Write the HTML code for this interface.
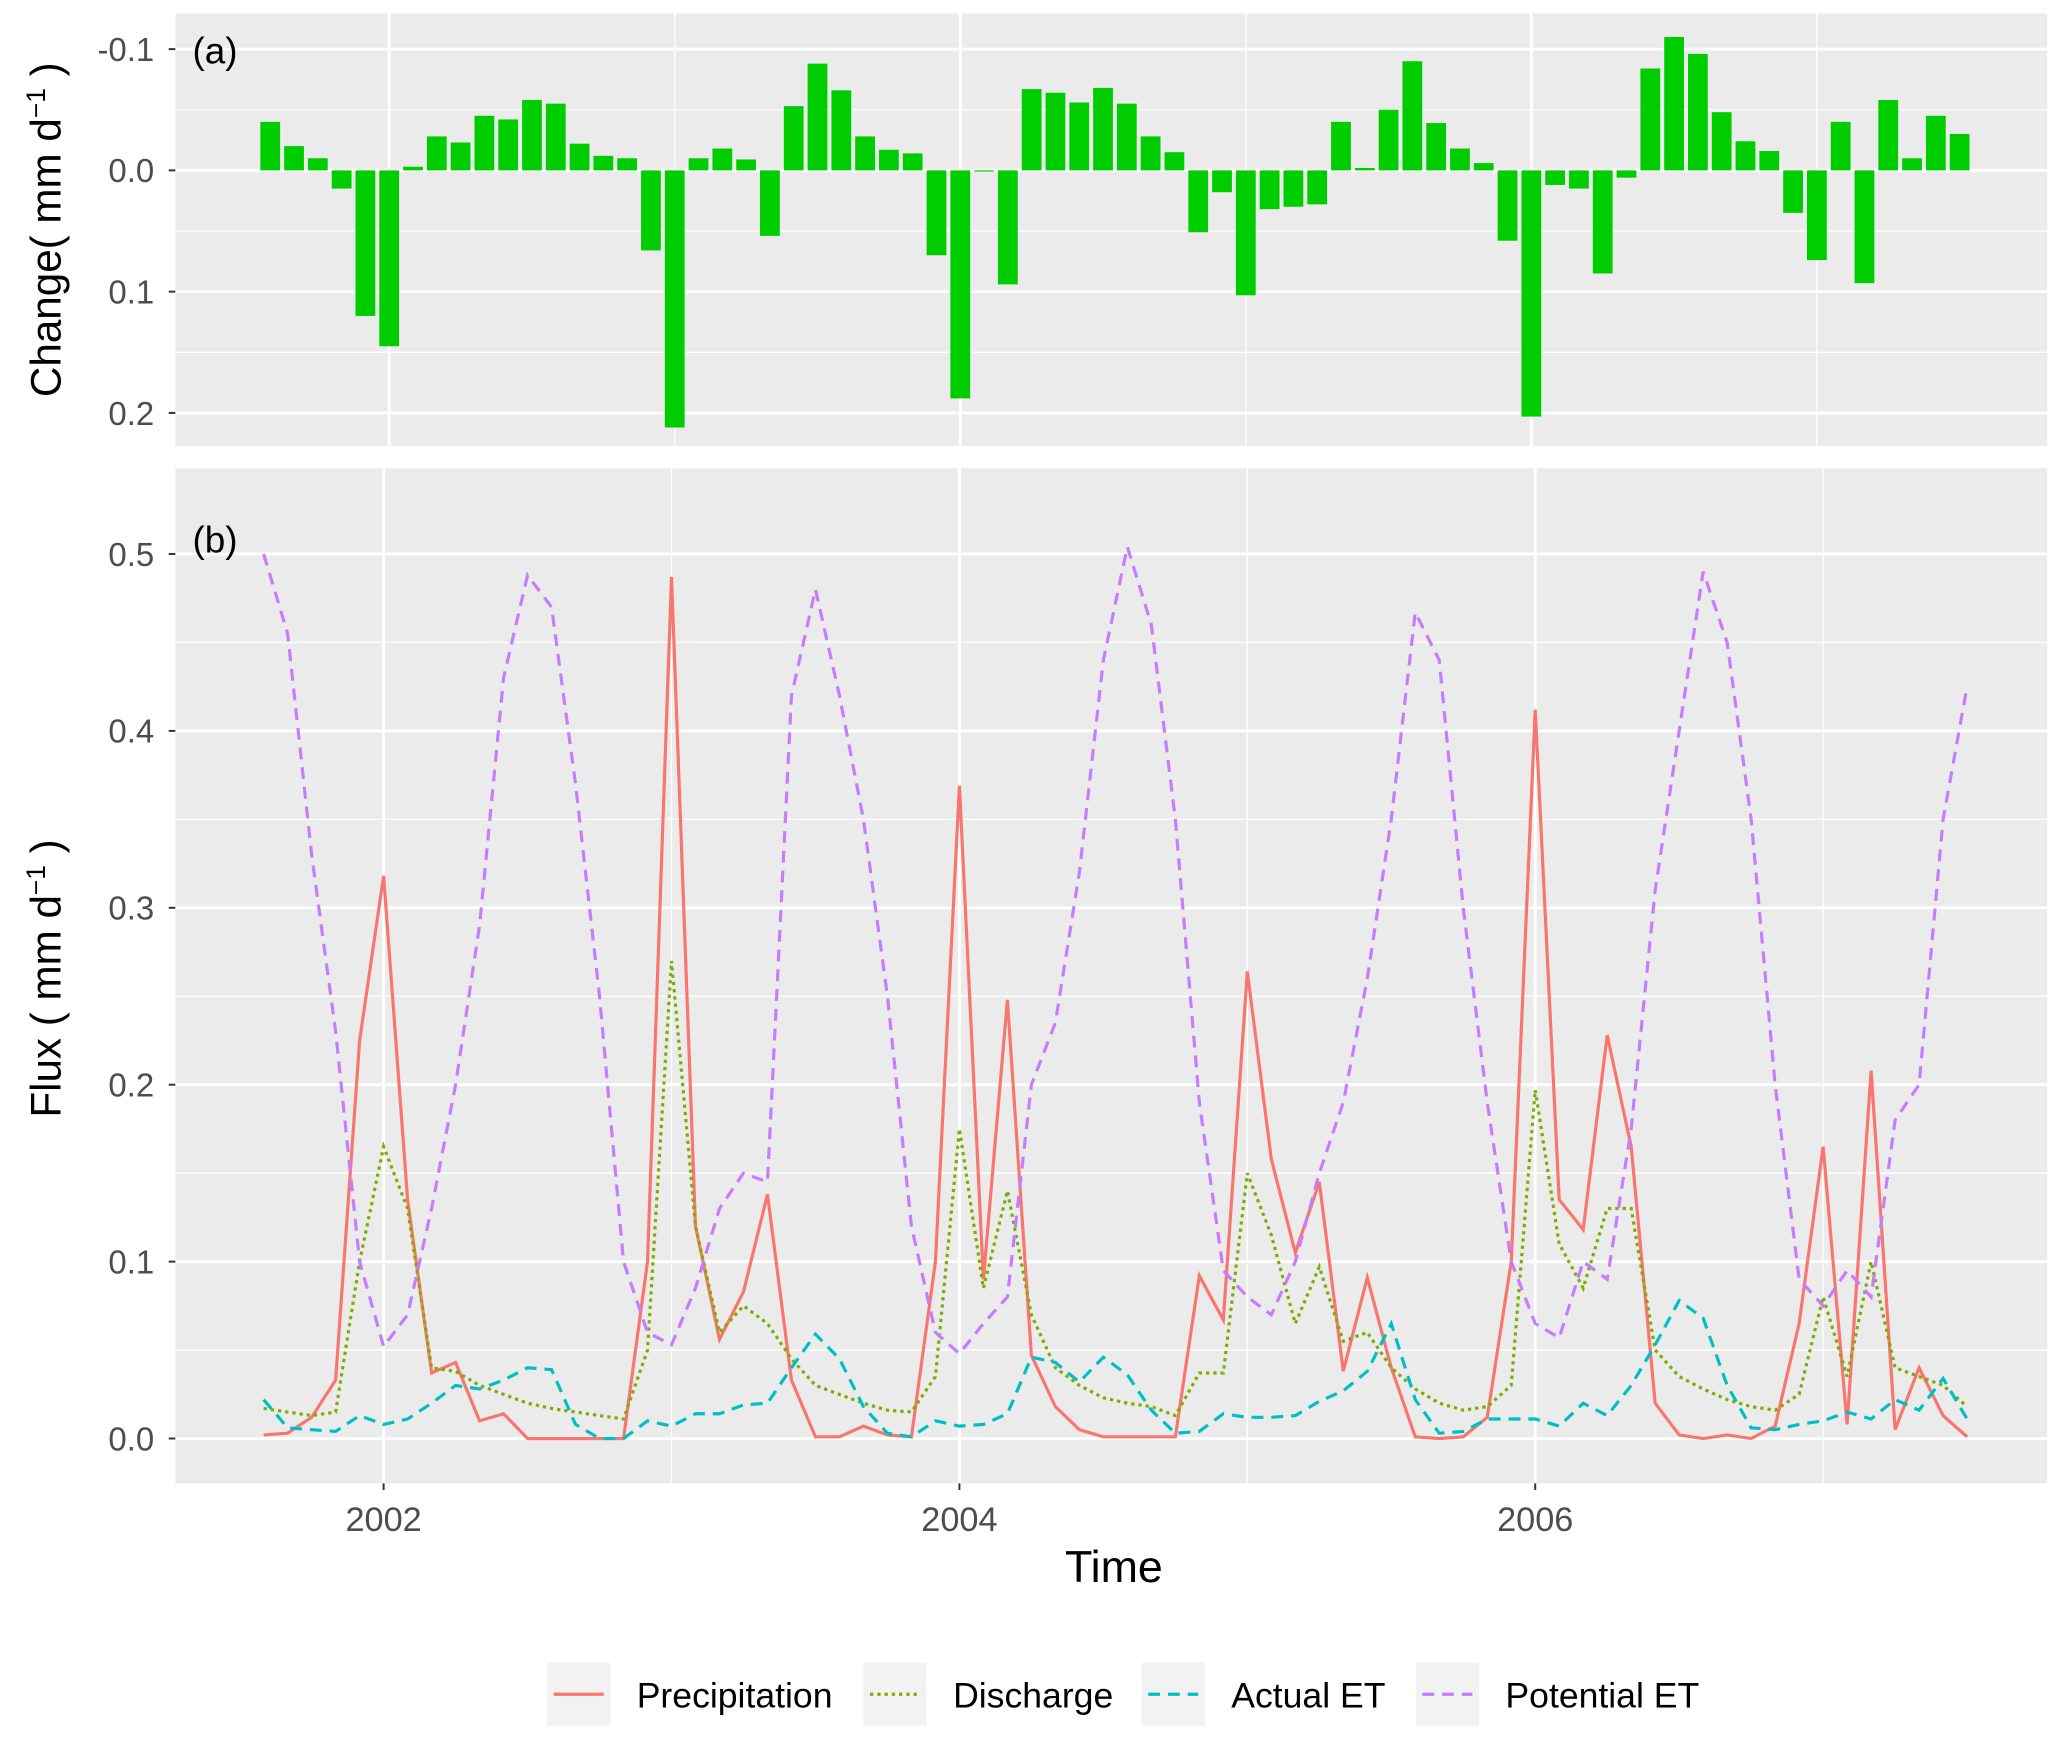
<!DOCTYPE html>
<html><head><meta charset="utf-8"><style>body{margin:0;background:#fff}svg{display:block}text{font-family:"Liberation Sans",Arial,sans-serif}</style></head>
<body>
<svg id="chart" width="2067" height="1746" viewBox="0 0 1568 1324" xmlns="http://www.w3.org/2000/svg">
<g id="pa"></g>
<g id="pb"></g>
<text x="46" y="174" font-size="32" text-anchor="middle" transform="rotate(-90 46 174)">Change( mm d<tspan font-size="20" dy="-12">−1</tspan><tspan dy="12"> )</tspan></text>
<text x="46" y="742" font-size="32" text-anchor="middle" transform="rotate(-90 46 742)">Flux ( mm d<tspan font-size="20" dy="-12">−1</tspan><tspan dy="12"> )</tspan></text>
<text x="845" y="1200" font-size="34" text-anchor="middle">Time</text>
<g id="legend"></g>
</svg>
<script>
const changeVals=[-0.04,-0.02,-0.01,0.015,0.12,0.145,-0.003,-0.028,-0.023,-0.045,-0.042,-0.058,-0.055,-0.022,-0.012,-0.01,0.066,0.212,-0.01,-0.018,-0.009,0.054,-0.053,-0.088,-0.066,-0.028,-0.017,-0.014,0.07,0.188,0.001,0.094,-0.067,-0.064,-0.056,-0.068,-0.055,-0.028,-0.015,0.051,0.018,0.103,0.032,0.03,0.028,-0.04,-0.002,-0.05,-0.09,-0.039,-0.018,-0.006,0.058,0.203,0.012,0.015,0.085,0.006,-0.084,-0.11,-0.096,-0.048,-0.024,-0.016,0.035,0.074,-0.04,0.093,-0.058,-0.01,-0.045,-0.03];
const precip=[0.002,0.003,0.012,0.033,0.225,0.318,0.135,0.037,0.043,0.01,0.014,0,0,0,0,0,0.1,0.487,0.12,0.056,0.083,0.138,0.033,0.001,0.001,0.007,0.002,0.001,0.1,0.369,0.09,0.248,0.047,0.018,0.005,0.001,0.001,0.001,0.001,0.092,0.067,0.264,0.158,0.105,0.145,0.038,0.091,0.04,0.001,0,0.001,0.012,0.1,0.412,0.135,0.118,0.228,0.165,0.02,0.002,0,0.002,0,0.007,0.065,0.165,0.008,0.208,0.005,0.04,0.013,0.001];
const discharge=[0.017,0.015,0.013,0.015,0.1,0.165,0.13,0.04,0.038,0.03,0.025,0.02,0.017,0.015,0.013,0.011,0.05,0.27,0.12,0.06,0.075,0.065,0.045,0.03,0.025,0.02,0.016,0.015,0.035,0.175,0.085,0.14,0.07,0.04,0.03,0.023,0.02,0.018,0.013,0.037,0.037,0.15,0.115,0.065,0.097,0.055,0.06,0.04,0.028,0.02,0.016,0.018,0.03,0.197,0.11,0.085,0.13,0.13,0.05,0.035,0.028,0.022,0.018,0.016,0.025,0.08,0.035,0.1,0.04,0.035,0.03,0.018];
const actualET=[0.022,0.006,0.005,0.004,0.013,0.008,0.011,0.02,0.03,0.028,0.033,0.04,0.039,0.008,0,0,0.01,0.007,0.014,0.014,0.019,0.02,0.04,0.059,0.045,0.018,0.003,0.001,0.01,0.007,0.008,0.014,0.046,0.043,0.032,0.046,0.036,0.016,0.003,0.004,0.014,0.012,0.012,0.013,0.021,0.027,0.038,0.065,0.022,0.003,0.004,0.011,0.011,0.011,0.007,0.02,0.013,0.03,0.053,0.078,0.068,0.03,0.006,0.005,0.008,0.01,0.015,0.011,0.022,0.016,0.034,0.011];
const potentialET=[0.5,0.455,0.33,0.23,0.1,0.052,0.07,0.13,0.2,0.29,0.43,0.488,0.47,0.37,0.25,0.1,0.06,0.053,0.085,0.13,0.15,0.145,0.42,0.48,0.42,0.35,0.25,0.12,0.06,0.048,0.065,0.08,0.2,0.235,0.32,0.44,0.504,0.46,0.35,0.19,0.095,0.08,0.07,0.1,0.15,0.19,0.26,0.35,0.467,0.44,0.3,0.19,0.1,0.065,0.057,0.1,0.09,0.175,0.31,0.4,0.49,0.45,0.35,0.2,0.09,0.075,0.095,0.08,0.18,0.2,0.35,0.425];
const aTicks=[-0.1,0.0,0.1,0.2];
const aTickLabels=["-0.1","0.0","0.1","0.2"];
const bTicks=[0,0.1,0.2,0.3,0.4,0.5];
const bTickLabels=["0.0","0.1","0.2","0.3","0.4","0.5"];
const years=[2002,2003,2004,2005,2006,2007];
const yearLabels=["2002","2004","2006"];
const NS="http://www.w3.org/2000/svg";
function mk(p,t,a){const e=document.createElementNS(NS,t);for(const k in a)e.setAttribute(k,a[k]);p.appendChild(e);return e;}
const xa=i=>205+i*18.05, ya=v=>129+v*920;
const xb=i=>200+i*18.2, yb=v=>1091-v*1342;
const yearIdx=y=>(y-2002)*12+5;
const pa=document.getElementById('pa'), pb=document.getElementById('pb');
let r=mk(pa,'rect',{x:133,y:10,width:1420,height:328,fill:'#ebebeb'});

[-0.15,-0.05,0.05,0.15,0.25].forEach(v=>{const y=ya(v);if(y>10&&y<338)mk(pa,'line',{x1:133,x2:1553,y1:y,y2:y,stroke:'#fff','stroke-width':1});});
aTicks.forEach((v,k)=>{const y=ya(v);mk(pa,'line',{x1:133,x2:1553,y1:y,y2:y,stroke:'#fff','stroke-width':2.2});
 mk(pa,'line',{x1:128,x2:133,y1:y,y2:y,stroke:'#333','stroke-width':1.5});
 const t=mk(pa,'text',{x:117,y:y+9,'font-size':25,'text-anchor':'end',fill:'#4d4d4d'});t.textContent=aTickLabels[k];
 });
years.forEach(y=>{const x=xa(yearIdx(y));mk(pa,'line',{x1:x,x2:x,y1:10,y2:338,stroke:'#fff','stroke-width':(y%2==0)?2.2:1});});
changeVals.forEach((v,i)=>{const y0=ya(0),y1=ya(v);const b=mk(pa,'rect',{x:xa(i)-7.5,y:Math.min(y0,y1),width:15,height:Math.abs(y1-y0),fill:'#00cd00'});
 });
let ta=mk(pa,'text',{x:146,y:48,'font-size':28});ta.textContent='(a)';

r=mk(pb,'rect',{x:133,y:355,width:1420,height:770,fill:'#ebebeb'});

[0.05,0.15,0.25,0.35,0.45].forEach(v=>{const y=yb(v);mk(pb,'line',{x1:133,x2:1553,y1:y,y2:y,stroke:'#fff','stroke-width':1});});
bTicks.forEach((v,k)=>{const y=yb(v);mk(pb,'line',{x1:133,x2:1553,y1:y,y2:y,stroke:'#fff','stroke-width':2.2});
 mk(pb,'line',{x1:128,x2:133,y1:y,y2:y,stroke:'#333','stroke-width':1.5});
 const t=mk(pb,'text',{x:117,y:y+9,'font-size':25,'text-anchor':'end',fill:'#4d4d4d'});t.textContent=bTickLabels[k];
 });
years.forEach(y=>{const x=xb(yearIdx(y));mk(pb,'line',{x1:x,x2:x,y1:355,y2:1125,stroke:'#fff','stroke-width':(y%2==0)?2.2:1});});
yearLabels.forEach(l=>{const x=xb(yearIdx(+l));mk(pb,'line',{x1:x,x2:x,y1:1125,y2:1130,stroke:'#333','stroke-width':1.5});
 const t=mk(pb,'text',{x:x,y:1161,'font-size':26,'text-anchor':'middle',fill:'#4d4d4d'});t.textContent=l;
 });
const series=[[precip,'#f8766d',null,'precipitation-line'],[discharge,'#7cae00','2.5,3','discharge-line'],[actualET,'#00bfc4','9,6','actual-et-line'],[potentialET,'#c77cff','9,6','potential-et-line']];
series.forEach(s=>{const d=s[0].map((v,i)=>(i?'L':'M')+xb(i).toFixed(1)+','+yb(v).toFixed(1)).join('');
 const a={d:d,fill:'none',stroke:s[1],'stroke-width':2.4};if(s[2])a['stroke-dasharray']=s[2];
 const p=mk(pb,'path',a);});
let tb=mk(pb,'text',{x:146,y:419,'font-size':28});tb.textContent='(b)';

const lg=document.getElementById('legend');
const items=[['Precipitation','#f8766d',null,415],['Discharge','#7cae00','2.5,3',655],['Actual ET','#00bfc4','9,6',866],['Potential ET','#c77cff','9,6',1074]];
items.forEach(it=>{const x=+it[3];const k=mk(lg,'rect',{x:x,y:1261,width:48,height:48,fill:'#f2f2f2'});
 
 const a={x1:x+5,x2:x+43,y1:1285,y2:1285,stroke:it[1],'stroke-width':2.4};if(it[2])a['stroke-dasharray']=it[2];mk(lg,'line',a);
 const t=mk(lg,'text',{x:x+68,y:1295,'font-size':27});t.textContent=it[0];
 });
</script>
</body></html>
